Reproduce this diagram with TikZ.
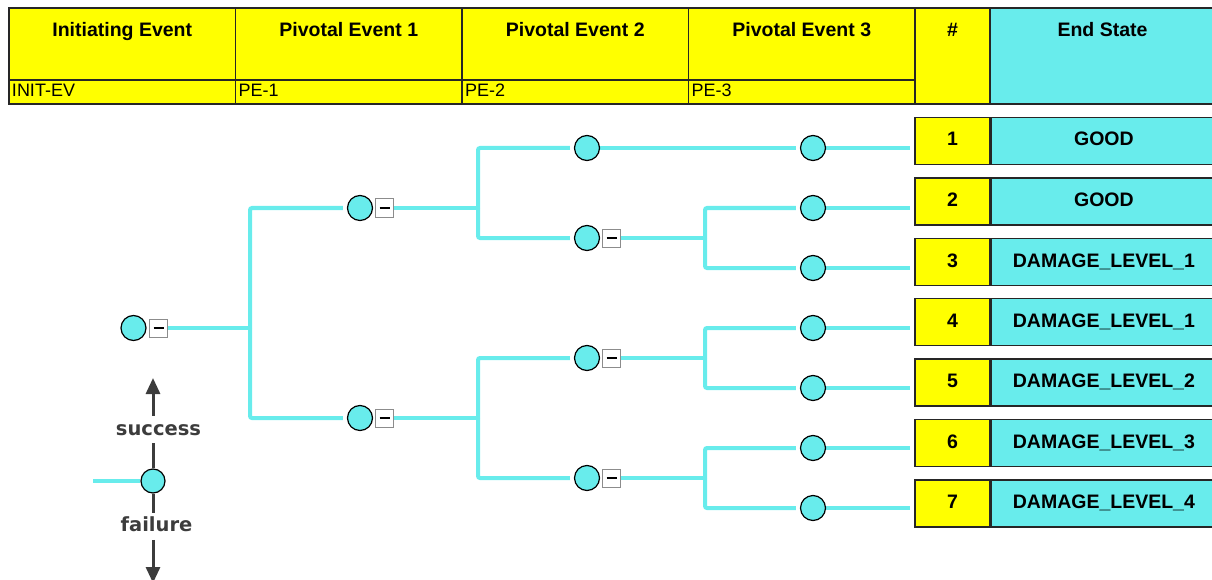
\documentclass[tikz,border=0pt]{standalone}
\usepackage{fontspec}
\setmainfont{Liberation Sans}
\newfontfamily\legendfont{DejaVu Sans}
\usetikzlibrary{positioning}
\usetikzlibrary{arrows.meta}
\definecolor{etyellow}{HTML}{FFFF00}
\definecolor{etcyan}{HTML}{68ECEC}
\definecolor{etgrey}{HTML}{3C3C3C}
\pgfdeclarelayer{bg}
\pgfsetlayers{bg,main}

\begin{document}
\begin{tikzpicture}[x=1pt,y=-1pt,
  cell/.style={draw=black!85,line width=1.4pt,fill=etyellow,inner sep=0pt},
  title/.style={cell,minimum width=226.5pt,minimum height=72pt,font=\bfseries\fontsize{19.5}{22}\selectfont,text height=14pt,text depth=28pt},
  code/.style={cell,font=\fontsize{18}{20}\selectfont,text width=220.5pt,align=left,inner xsep=3pt,minimum height=24pt,text height=13pt,text depth=3pt},
  numcell/.style={cell,minimum width=75pt,minimum height=47pt,font=\bfseries\fontsize{19.5}{22}\selectfont,text height=14pt,text depth=4pt},
  statecell/.style={numcell,fill=etcyan,minimum width=225pt},
  evt/.style={circle,draw=black,line width=1.2pt,fill=etcyan,minimum size=25pt,inner sep=0pt},
  mbox/.style={draw=black!45,line width=1pt,fill=white,minimum size=18pt,inner sep=0pt,
    path picture={\draw[black,line width=1.1pt] ([xshift=-5pt]path picture bounding box.center) -- ([xshift=5pt]path picture bounding box.center);}},
  branch/.style={etcyan,line width=4pt,rounded corners=2pt},
  tobranch/.style={branch,shorten >=4pt},
  legarrow/.style={etgrey,line width=3pt},
  legtext/.style={font=\legendfont\bfseries\fontsize{19.5}{22}\selectfont,text=etgrey,inner sep=4pt,text height=15pt,text depth=4pt}]
\useasboundingbox (0,0) rectangle (1212,580);

% header
\node[title] (T1) at (122.25,44) {Initiating Event};
\node[title] (T2) at (348.75,44) {Pivotal Event 1};
\node[title] (T3) at (575.25,44) {Pivotal Event 2};
\node[title] (T4) at (801.75,44) {Pivotal Event 3};
\node[code] (K1) at (122.25,92) {INIT-EV};
\node[code] (K2) at (348.75,92) {PE-1};
\node[code] (K3) at (575.25,92) {PE-2};
\node[code] (K4) at (801.75,92) {PE-3};
\node[title,minimum width=75pt,minimum height=96pt,text depth=52pt] (TN) at (952.5,56) {\#};
\node[title,fill=etcyan,minimum width=225pt,minimum height=96pt,text depth=52pt] (TS) at (1102.5,56) {End State};

% event tree
\node[evt] (IE) at (133.5,328) {};
\node[mbox,right=2.5pt of IE] (IEm) {};
\node[evt] (A1) at (360,208) {};
\node[mbox,right=2pt of A1] (A1m) {};
\node[evt] (A2) at (360,418) {};
\node[mbox,right=2pt of A2] (A2m) {};
\node[evt] (B1) at (587,148) {};
\node[evt] (B2) at (587,238) {};
\node[mbox,right=2pt of B2] (B2m) {};
\node[evt] (B3) at (587,358) {};
\node[mbox,right=2pt of B3] (B3m) {};
\node[evt] (B4) at (587,478) {};
\node[mbox,right=2pt of B4] (B4m) {};
\node[evt] (C1) at (813,148) {};
\node[evt] (C2) at (813,208) {};
\node[evt] (C3) at (813,268) {};
\node[evt] (C4) at (813,328) {};
\node[evt] (C5) at (813,388) {};
\node[evt] (C6) at (813,448) {};
\node[evt] (C7) at (813,508) {};

% end states
\node[numcell] (N1) at (952.5,141) {1};
\node[statecell,right=0pt of N1] (S1) {GOOD};
\node[numcell] (N2) at (952.5,201.5) {2};
\node[statecell,right=0pt of N2] (S2) {GOOD};
\node[numcell] (N3) at (952.5,262) {3};
\node[statecell,right=0pt of N3] (S3) {DAMAGE\_LEVEL\_1};
\node[numcell] (N4) at (952.5,322) {4};
\node[statecell,right=0pt of N4] (S4) {DAMAGE\_LEVEL\_1};
\node[numcell] (N5) at (952.5,382.5) {5};
\node[statecell,right=0pt of N5] (S5) {DAMAGE\_LEVEL\_2};
\node[numcell] (N6) at (952.5,443) {6};
\node[statecell,right=0pt of N6] (S6) {DAMAGE\_LEVEL\_3};
\node[numcell] (N7) at (952.5,503.5) {7};
\node[statecell,right=0pt of N7] (S7) {DAMAGE\_LEVEL\_4};

% legend
\node[evt,minimum size=24pt] (L) at (153,481) {};
\node[legtext,anchor=base] (Ls) at (158.5,435) {success};
\node[legtext,anchor=base] (Lf) at (156.5,531.7) {failure};
\coordinate (Lin) at (93,481);
\coordinate (Lup) at (153,378);
\coordinate (Ldn) at (153,583);

\coordinate (J0) at (250,328);
\coordinate (J1) at (478,208);
\coordinate (J2) at (478,418);
\coordinate (J3) at (705,238);
\coordinate (J4) at (705,358);
\coordinate (J5) at (705,478);

\begin{pgfonlayer}{bg}
\draw[branch] (IEm) -- (J0);
\draw[tobranch] (J0) |- (A1);
\draw[tobranch] (J0) |- (A2);
\draw[branch] (A1m) -- (J1);
\draw[tobranch] (J1) |- (B1);
\draw[tobranch] (J1) |- (B2);
\draw[branch] (A2m) -- (J2);
\draw[tobranch] (J2) |- (B3);
\draw[tobranch] (J2) |- (B4);
\draw[tobranch] (B1) -- (C1);
\draw[branch] (B2m) -- (J3);
\draw[tobranch] (J3) |- (C2);
\draw[tobranch] (J3) |- (C3);
\draw[branch] (B3m) -- (J4);
\draw[tobranch] (J4) |- (C4);
\draw[tobranch] (J4) |- (C5);
\draw[branch] (B4m) -- (J5);
\draw[tobranch] (J5) |- (C6);
\draw[tobranch] (J5) |- (C7);
\draw[tobranch] (C1) -- (C1 -| N1.west);
\draw[tobranch] (C2) -- (C2 -| N2.west);
\draw[tobranch] (C3) -- (C3 -| N3.west);
\draw[tobranch] (C4) -- (C4 -| N4.west);
\draw[tobranch] (C5) -- (C5 -| N5.west);
\draw[tobranch] (C6) -- (C6 -| N6.west);
\draw[tobranch] (C7) -- (C7 -| N7.west);
\draw[branch] (Lin) -- (L);
\draw[legarrow] (L.north) -- (L.north |- Ls.south);
\draw[legarrow,-{Triangle[length=16pt,width=14pt]}] (Lup |- Ls.north) -- (Lup);
\draw[legarrow] (L.south) -- (L.south |- Lf.north);
\draw[legarrow,-{Triangle[length=16pt,width=14pt]}] (Ldn |- Lf.south) -- (Ldn);
\end{pgfonlayer}
\end{tikzpicture}
\end{document}
